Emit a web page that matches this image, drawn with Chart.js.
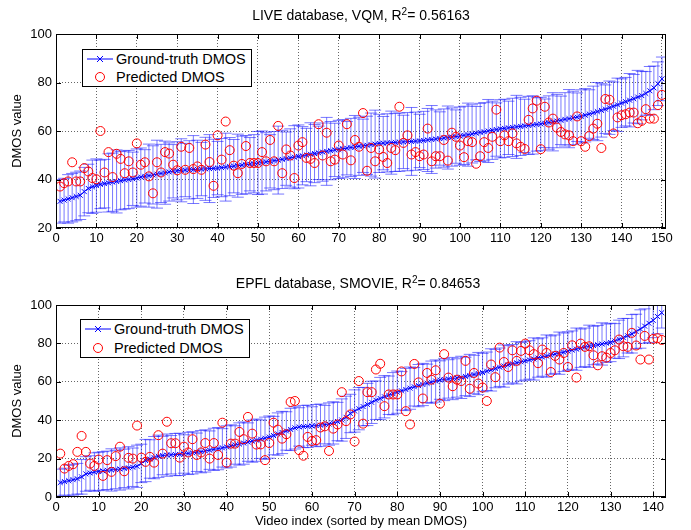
<!DOCTYPE html>
<html><head><meta charset="utf-8">
<script src="https://cdn.jsdelivr.net/npm/chart.js@4.4.1/dist/chart.umd.min.js"></script>
<style>
html,body{margin:0;padding:0;background:#fff;}
#wrap{position:relative;width:691px;height:530px;overflow:hidden;}
canvas{position:absolute;left:0;}
.legend{position:absolute;background:#fff;border:1px solid #000;font:14.5px "Liberation Sans",Arial,sans-serif;color:#000;box-sizing:border-box;}
.row{position:absolute;left:0;height:18px;line-height:18px;white-space:nowrap;}
.row svg{position:absolute;left:4px;top:3px;}
.row span{position:absolute;left:33px;top:0;}
.ttl{position:absolute;font:14px "Liberation Sans",Arial,sans-serif;color:#000;white-space:nowrap;transform:translateX(-50%);line-height:16px;}
.ttl sup{font-size:10px;line-height:0;vertical-align:5px;}
</style></head>
<body><div id="wrap">
<canvas id="c1" width="691" height="262" style="top:0"></canvas>
<canvas id="c2" width="691" height="268" style="top:262px"></canvas>
<div class="ttl" id="t1" style="left:361px;top:7px"></div>
<div class="ttl" id="t2" style="left:358px;top:275px"></div>
<div class="legend" style="left:82px;top:49px;width:170px;height:38px">
 <div class="row" style="top:0px"><svg width="28" height="12"><line x1="0" y1="6" x2="26" y2="6" stroke="#0000ff" stroke-width="1"/><path d="M10 3 L16 9 M16 3 L10 9" stroke="#0000ff" stroke-width="1"/></svg><span>Ground-truth DMOS</span></div>
 <div class="row" style="top:18px"><svg width="28" height="12"><circle cx="13" cy="6" r="4.5" fill="none" stroke="#ff0000" stroke-width="1"/></svg><span>Predicted DMOS</span></div>
</div>
<div class="legend" style="left:80px;top:319px;width:170px;height:39px">
 <div class="row" style="top:0px"><svg width="28" height="12"><line x1="0" y1="6" x2="26" y2="6" stroke="#0000ff" stroke-width="1"/><path d="M10 3 L16 9 M16 3 L10 9" stroke="#0000ff" stroke-width="1"/></svg><span>Ground-truth DMOS</span></div>
 <div class="row" style="top:19px"><svg width="28" height="12"><circle cx="13" cy="6" r="4.5" fill="none" stroke="#ff0000" stroke-width="1"/></svg><span>Predicted DMOS</span></div>
</div>
</div>
<script>
// ---------- LIVE database (VQM) ----------
const liveTitle = ['LIVE database, VQM, R', '2', '= 0.56163'];
const liveGT = [31,31.5,32,32.5,33,33.5,35,36.3,37,37.5,
38,38.3,38.6,38.9,39.2,39.5,39.8,40,40.3,40.6,
41,41.3,41.6,41.9,42.2,42.5,42.8,43.1,43.4,43.6,
43.8,43.9,44,44.1,44.2,44.3,44.4,44.5,44.6,44.7,
44.9,45.1,45.3,45.5,45.7,45.9,46.1,46.3,46.5,46.8,
47,47.3,47.5,47.8,48,48.3,48.6,48.9,49.2,49.5,
49.8,50.1,50.4,50.7,51,51.3,51.6,51.9,52.2,52.4,
52.7,52.9,53.2,53.4,53.7,53.9,54.1,54.4,54.6,54.9,
55,55.1,55.2,55.3,55.4,55.5,55.6,55.7,55.8,55.9,
56.1,56.3,56.5,56.7,56.9,57.1,57.3,57.5,57.7,57.9,
58.2,58.5,58.8,59.1,59.4,59.7,60,60.3,60.6,60.9,
61.1,61.3,61.5,61.7,61.9,62.1,62.3,62.5,62.7,62.9,
63.2,63.5,63.8,64.1,64.4,64.8,65.1,65.4,65.7,66,
66.5,67,67.5,68,68.5,69,69.6,70.2,70.8,71.5,
72.1,72.7,73.3,74,74.6,75.5,76.6,77.8,79.5,81.5];
const liveErr = [9,9,10,10,10,10,10,10,11,11,
10,10,12,12,13,12,12,12,11,12,
12,11,13,12,14,12,13,12,11,12,
13,11,12,14,12,11,13,14,12,11,
12,14,12,11,13,12,12,11,12,13,
13,12,11,12,14,12,11,12,13,13,
12,11,13,12,11,12,14,12,11,12,
12,11,12,13,12,11,12,13,14,12,
11,12,13,12,12,11,12,14,12,11,
12,13,14,12,11,12,13,12,11,12,
12,13,12,11,12,12,13,12,11,12,
12,11,12,13,12,11,12,12,11,11,
10,11,12,11,10,11,12,11,10,11,
11,10,11,12,11,10,11,10,11,10,
10,11,10,11,10,9,10,9,9,9];
const livePred = [37.1,38.5,39.2,47.1,39.2,39.2,44.7,43.3,40.6,40.1,
60,42.9,51.3,41,50.6,48.5,42.6,47.5,42.9,54.9,
46.1,47.1,41.3,34.3,47.1,42.9,51.3,50.7,46.1,43.8,
53.5,44,53,44.3,45.4,44,54.4,47.2,37.4,58.2,
48.2,63.9,52.1,45.7,42.6,46.4,53.8,46.8,46.8,46.8,
51.3,47.5,56.3,47.5,62.1,42.6,52.4,49.9,40.6,54,
55.4,48.9,48.5,46.8,62.8,49.9,59.3,47.5,48.2,54,
50.3,62.8,47.9,56.3,53.5,67.4,43.6,53,47.5,52.4,
49.3,46.8,53,52.1,70,55.1,58.2,50.3,51.3,49.6,
50.3,61,47.5,49.6,49.6,56.3,47.8,59.3,57.6,54,
49.2,55.8,55.4,46.5,49.6,55.4,53,57.6,68.8,55.8,
58.2,55.8,59,54.9,53.5,52.6,64.6,69.3,72.5,52.5,
70,63.5,65.1,61.4,59.6,58.6,58.2,55.8,66,55.8,
53.5,57.9,61,63,53,73.2,72.9,59,65.6,66.5,
66.9,67.6,67.6,63.2,64.2,69,65.1,65.1,70.7,74.9];
const liveXMax = 151, liveYMin = 20, liveYMax = 100;

// ---------- EPFL database (SMOVIE) ----------
const epflTitle = ['EPFL database, SMOVIE, R', '2', '= 0.84653'];
const epflGT = [7.5,8,8.5,9,9.5,10.5,12,12.5,13,13.3,
13.6,13.9,14.1,14.3,14.6,14.9,15.2,15.5,16,17.5,
19,19.8,20.5,21.2,21.6,21.8,22,22.1,22.2,22.4,
22.7,23,23.3,23.6,24,24.4,24.8,25.2,25.6,26.1,
26.6,27.1,27.6,28.1,28.6,29.1,29.6,30.1,30.6,31.2,
32,32.8,33.6,34.4,35.2,36,36.5,36.7,36.8,37,
37.2,37.4,37.7,38,38.6,39.3,40.1,41.5,43.5,44.8,
46,47.1,48.2,49.3,50.4,51.3,52.2,53,53.8,54.6,
55.3,56,56.7,57.4,58,58.6,59.2,59.8,60.4,60.9,
61.2,61.5,61.7,62,62.3,62.8,63.3,63.8,64.3,64.8,
65.5,66.2,66.9,67.6,68.2,68.8,69.4,69.9,70.4,70.9,
71.4,71.9,72.4,72.9,73.4,73.9,74.4,74.9,75.4,76,
76.5,77,77.5,78,78.5,78.9,79.3,79.7,80.1,80.5,
81.3,82.1,83,84,85,86.2,87.5,89,90.5,92,
94,96];
const epflErr = [7,7,8,8,8,9,9,9,10,10,
10,10,11,10,11,10,11,10,11,10,
11,10,11,11,10,11,10,11,11,10,
11,11,10,11,11,10,11,11,10,11,
11,10,11,11,10,11,11,10,11,11,
10,11,11,10,11,11,10,11,11,10,
11,11,10,11,11,10,11,11,10,11,
11,10,11,11,10,11,11,10,11,11,
10,11,11,10,11,11,10,11,11,10,
11,10,11,10,11,10,11,10,11,10,
10,11,10,10,11,10,10,11,10,10,
10,11,10,10,11,10,10,11,10,10,
10,11,10,10,11,10,10,11,10,10,
9,10,10,9,10,9,10,9,10,9,
9,8];
const epflPred = [22.6,14.8,16.2,17.1,23.5,31.8,23.5,17.4,16.2,19.5,
11,19.2,13.1,21.3,26.2,13.4,20.4,20,37.2,20.5,
18.3,20.9,17.9,32.2,22.6,39.2,28,28,20.5,26.2,
23.2,30.1,21.9,23.2,28.1,20,28.1,21.9,38.7,17.9,
27.8,27.8,33.9,30.1,41.7,33,27.3,27.4,19.2,28.1,
38.7,35.1,30.4,32.7,49.5,50,24.4,21.5,31.3,29.2,
29.6,36.2,36.8,24,35.6,37.8,54.6,39.5,43,28.9,
60.4,38.2,54.6,54.6,66.4,69.4,47.3,53.4,53.4,53.4,
65.4,44.7,37.8,69.3,59.7,51.3,64.6,61.1,66,48.6,
74.4,62.2,57.7,61.1,60.4,70.9,56.4,64.6,59.1,57,
50,69,62.4,77.8,70.3,67.7,76.4,70.9,76.1,79.9,
76.4,74.4,69.7,76.8,75,65.1,73.5,71.6,75,67.7,
79,62.2,79.9,78.2,78.5,73.8,68.6,73.3,72.6,75,
76.4,82,78.5,78.2,85.5,78.9,71.6,83.9,71.6,82.3,
82.7,81.8];
const epflXMax = 143, epflYMin = 0, epflYMax = 100;
const xAxisTitle = 'Video index (sorted by mean DMOS)';
const yAxisTitle = 'DMOS value';

function setTitle(id, parts) {
  const el = document.getElementById(id);
  el.appendChild(document.createTextNode(parts[0]));
  const s = document.createElement('sup'); s.textContent = parts[1]; el.appendChild(s);
  el.appendChild(document.createTextNode(parts[2]));
}
setTitle('t1', liveTitle);
setTitle('t2', epflTitle);

const FONT = '"Liberation Sans", Arial, sans-serif';
const ERR_COLOR = 'rgba(30,30,255,0.6)';

const boxPlugin = {
  id: 'matlabBox',
  afterDraw(chart) {
    const {ctx, chartArea: a, scales: {x, y}} = chart;
    ctx.save();
    ctx.strokeStyle = '#000';
    ctx.lineWidth = 1;
    ctx.strokeRect(Math.round(a.left) + 0.5, Math.round(a.top) + 0.5,
      Math.round(a.right - a.left) - 1, Math.round(a.bottom - a.top) - 1);
    const L = 5;
    ctx.beginPath();
    x.ticks.forEach(t => {
      const p = Math.round(x.getPixelForValue(t.value)) + 0.5;
      ctx.moveTo(p, a.bottom); ctx.lineTo(p, a.bottom - L);
      ctx.moveTo(p, a.top); ctx.lineTo(p, a.top + L);
    });
    y.ticks.forEach(t => {
      const p = Math.round(y.getPixelForValue(t.value)) + 0.5;
      ctx.moveTo(a.left, p); ctx.lineTo(a.left + L, p);
      ctx.moveTo(a.right, p); ctx.lineTo(a.right - L, p);
    });
    ctx.stroke();
    ctx.restore();
  }
};

function makeChart(id, gt, err, pred, xMax, yMin, yMax, cfg) {
  const idx = gt.map((_, i) => i + 1);
  const gtPts = idx.map((x, i) => ({x, y: gt[i]}));
  const predPts = idx.map((x, i) => ({x, y: pred[i]}));
  const capPts = [];
  const barPts = [];
  idx.forEach((x, i) => {
    capPts.push({x, y: gt[i] - err[i]}, {x, y: gt[i] + err[i]});
    barPts.push({x, y: gt[i] - err[i]}, {x, y: gt[i] + err[i]}, {x, y: null});
  });
  return new Chart(document.getElementById(id), {
    type: 'scatter',
    data: {datasets: [
      {data: predPts, order: 0, showLine: false, pointStyle: 'circle', pointRadius: 4.5,
       pointBorderColor: '#ff0000', pointBackgroundColor: 'rgba(0,0,0,0)', pointBorderWidth: 1},
      {data: gtPts, order: 1, showLine: true, borderColor: '#0000ff', borderWidth: 1,
       pointStyle: 'crossRot', pointRadius: 3.5, pointBorderColor: '#0000ff', pointBorderWidth: 1},
      {data: capPts, order: 2, showLine: false, pointStyle: 'line', pointRadius: 6,
       pointBorderColor: ERR_COLOR, pointBorderWidth: 1},
      {data: barPts, order: 3, showLine: true, spanGaps: false, borderColor: ERR_COLOR,
       borderWidth: 1, pointRadius: 0}
    ]},
    options: {
      responsive: false, animation: false, events: [],
      layout: {padding: {left: 0, right: 25, top: cfg.top, bottom: 0}},
      plugins: {legend: {display: false}, tooltip: {enabled: false}, title: {display: false}},
      scales: {
        x: {type: 'linear', min: 0, max: xMax,
          ticks: {stepSize: 10, includeBounds: false, color: '#000', padding: 3,
            maxRotation: 0, autoSkip: false, font: {family: FONT, size: 13}},
          grid: {color: 'rgba(0,0,0,0.6)', drawTicks: false, lineWidth: 1},
          border: {display: false, dash: [1, 2]},
          title: {display: cfg.xTitle, text: xAxisTitle, color: '#000',
            font: {family: FONT, size: 13}, padding: {top: 0, bottom: 1}},
          afterFit: s => { s.height = cfg.xHeight; }
        },
        y: {type: 'linear', min: yMin, max: yMax,
          ticks: {stepSize: 20, color: '#000', padding: 4, font: {family: FONT, size: 13}},
          grid: {color: 'rgba(0,0,0,0.6)', drawTicks: false, lineWidth: 1},
          border: {display: false, dash: [1, 2]},
          title: {display: true, text: yAxisTitle, color: '#000',
            font: {family: FONT, size: 13}, padding: {top: 10, bottom: 0}},
          afterFit: s => { s.width = 56; }
        }
      }
    },
    plugins: [boxPlugin]
  });
}

makeChart('c1', liveGT, liveErr, livePred, liveXMax, liveYMin, liveYMax,
  {top: 34, xHeight: 34, xTitle: false});
makeChart('c2', epflGT, epflErr, epflPred, epflXMax, epflYMin, epflYMax,
  {top: 43, xHeight: 33, xTitle: true});
</script>
</body></html>
